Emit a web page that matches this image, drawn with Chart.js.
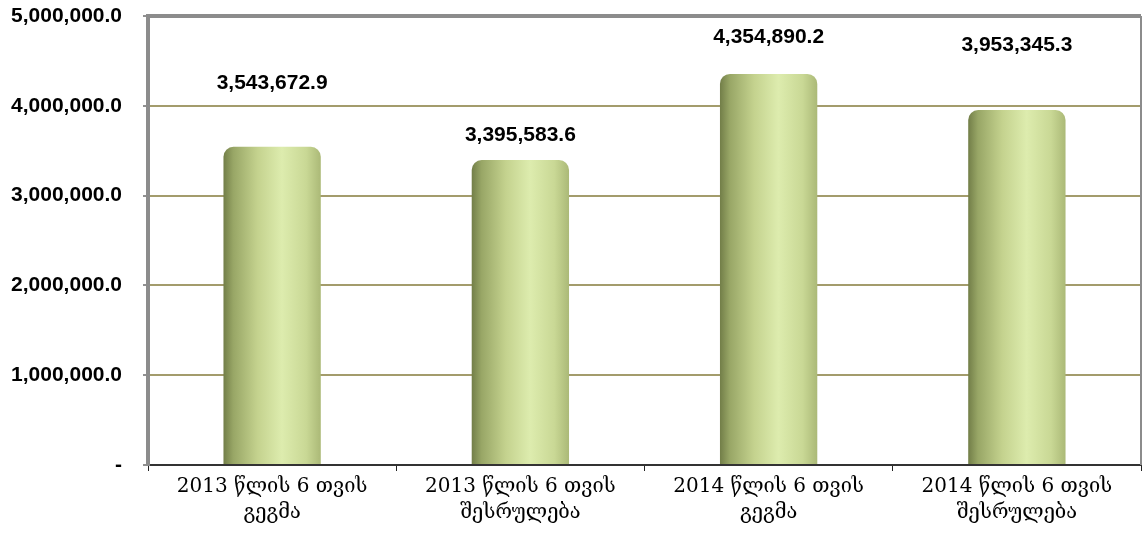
<!DOCTYPE html>
<html><head><meta charset="utf-8">
<script src="https://cdn.jsdelivr.net/npm/chart.js@4/dist/chart.umd.min.js"></script>
<style>html,body{margin:0;padding:0;background:#fff}#wrap{width:1144px;height:533px;position:relative}</style>
</head><body><div id="wrap"><canvas id="c"></canvas></div>
<script>
const categories = [
  ["2013 წლის 6 თვის", "გეგმა"],
  ["2013 წლის 6 თვის", "შესრულება"],
  ["2014 წლის 6 თვის", "გეგმა"],
  ["2014 წლის 6 თვის", "შესრულება"]
];
const values = [3543672.9, 3395583.6, 4354890.2, 3953345.3];
const yTicks = [0, 1000000, 2000000, 3000000, 4000000, 5000000];
const labelOffsets = [64, 25, 37, 65];

const fmt = v => v === 0 ? '-' : v.toLocaleString('en-US', {minimumFractionDigits: 1, maximumFractionDigits: 1});

const CAT_PCT = 0.8, BAR_PCT = 0.49;

function barGradient(ctx) {
  const chart = ctx.chart;
  const xs = chart.scales.x;
  if (!xs || !chart.chartArea) return '#c5d48e';
  const cx = xs.getPixelForValue(ctx.dataIndex);
  const w = (xs.width / categories.length) * CAT_PCT * BAR_PCT;
  const g = chart.ctx.createLinearGradient(cx - w / 2, 0, cx + w / 2, 0);
  g.addColorStop(0, '#727e48');
  g.addColorStop(0.1, '#98a666');
  g.addColorStop(0.35, '#c4d28e');
  g.addColorStop(0.6, '#ddecae');
  g.addColorStop(0.85, '#c9d895');
  g.addColorStop(1, '#abb977');
  return g;
}

const labelPlugin = {
  id: 'valueLabels',
  afterDatasetsDraw(chart) {
    const ctx = chart.ctx;
    const meta = chart.getDatasetMeta(0);
    ctx.save();
    ctx.font = 'bold 21px "Liberation Sans", Arial, sans-serif';
    ctx.fillStyle = '#000';
    ctx.textAlign = 'center';
    ctx.textBaseline = 'middle';
    meta.data.forEach((bar, i) => {
      ctx.fillText(fmt(values[i]), bar.x, bar.y - labelOffsets[i]);
    });
    ctx.restore();
  }
};

const framePlugin = {
  id: 'frame',
  afterDraw(chart) {
    const a = chart.chartArea, ctx = chart.ctx;
    ctx.save();
    ctx.strokeStyle = '#8c8c8c';
    ctx.lineWidth = 2;
    ctx.beginPath();
    ctx.moveTo(a.right, a.top);
    ctx.lineTo(a.right, a.bottom);
    ctx.stroke();
    ctx.restore();
  }
};

new Chart(document.getElementById('c'), {
  type: 'bar',
  data: {
    labels: categories,
    datasets: [{
      data: values,
      backgroundColor: barGradient,
      borderWidth: 0,
      borderRadius: {topLeft: 10, topRight: 10, bottomLeft: 0, bottomRight: 0},
      borderSkipped: 'bottom',
      categoryPercentage: CAT_PCT,
      barPercentage: BAR_PCT
    }]
  },
  plugins: [labelPlugin, framePlugin],
  options: {
    responsive: true,
    maintainAspectRatio: false,
    animation: false,
    layout: {autoPadding: false, padding: {top: 16, right: 3, left: 0, bottom: 0}},
    plugins: {legend: {display: false}, tooltip: {enabled: false}, title: {display: false}},
    scales: {
      x: {
        grid: {display: true, drawOnChartArea: false, offset: true, tickLength: 6, color: '#222', lineWidth: 1},
        border: {display: true, color: '#333', width: 2},
        ticks: {
          color: '#000',
          padding: 3,
          maxRotation: 0,
          font: {family: '"DejaVu Serif", serif', size: 20, lineHeight: 1.3}
        },
        afterFit(s) { s.height = 68; s.paddingLeft = 0; s.paddingRight = 0; s.paddingTop = 0; s.paddingBottom = 0; }
      },
      y: {
        min: 0, max: 5000000,
        afterBuildTicks(s) { s.ticks = yTicks.map(v => ({value: v})); },
        grid: {
          drawOnChartArea: true,
          tickLength: 5,
          color: c => c.index === 0 ? 'rgba(0,0,0,0)' : (c.index === yTicks.length - 1 ? '#8c8c8c' : '#a39c6c'),
          lineWidth: c => c.index === yTicks.length - 1 ? 4 : 2,
          tickColor: '#222',
          tickWidth: 1
        },
        border: {display: true, color: '#8c8c8c', width: 4},
        ticks: {
          color: '#000',
          padding: 21,
          font: {family: '"Liberation Sans", Arial, sans-serif', size: 21, weight: 'bold'},
          callback: v => fmt(v)
        },
        afterFit(s) { s.width = 148; s.paddingTop = 0; s.paddingBottom = 0; s.paddingLeft = 0; s.paddingRight = 0; }
      }
    }
  }
});
</script>
</body></html>
